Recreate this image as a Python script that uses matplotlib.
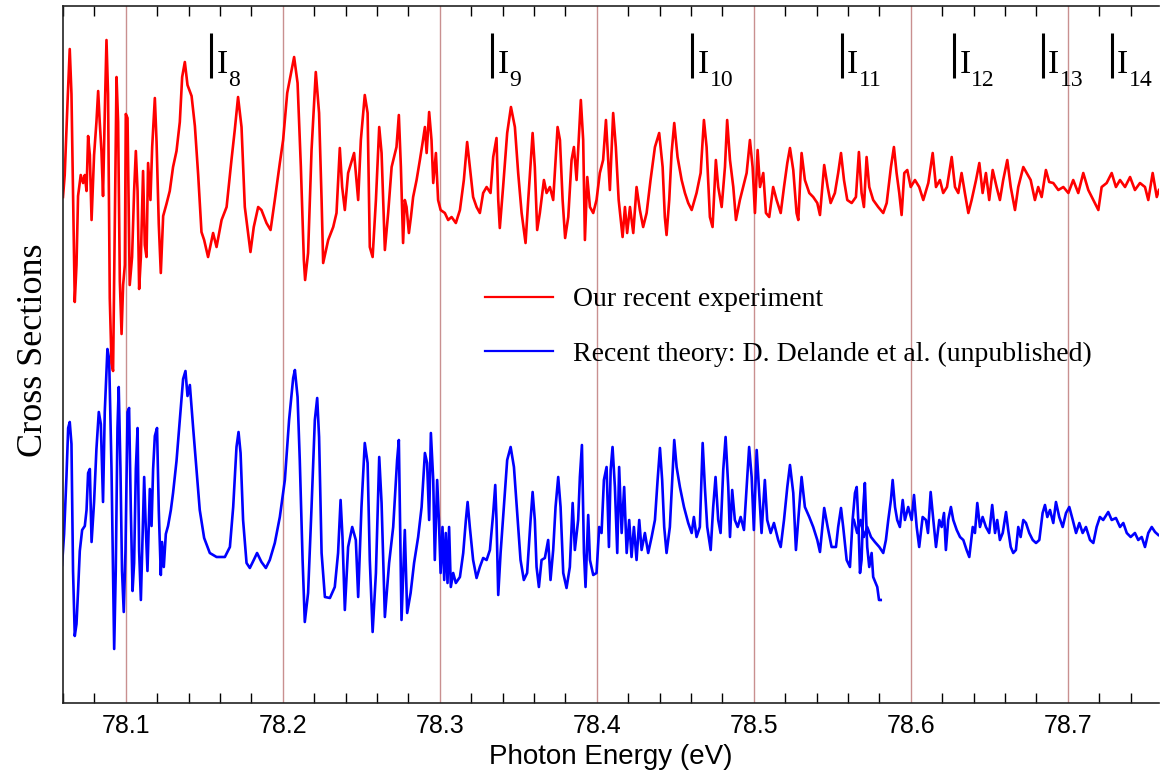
import numpy as np
import matplotlib
matplotlib.use("Agg")
import matplotlib.pyplot as plt
import matplotlib.transforms as mtransforms
from matplotlib.lines import Line2D
from matplotlib.ticker import MultipleLocator, FormatStrFormatter

# energies are stored in meV above E0, cross sections in arbitrary units
E0 = 78.0

exp_mev = [
    60.0, 61.1, 62.9, 64.3, 65.4, 66.4, 67.5, 68.6, 69.6, 71.3,
    72.8, 73.9, 75.0, 76.0, 77.1, 78.2, 79.8, 81.3, 82.4, 83.4,
    84.5, 85.5, 86.6, 87.7, 88.7, 89.8, 90.9, 91.9, 93.0, 94.1,
    95.1, 96.2, 97.3, 98.3, 99.4, 100.0, 101.1, 102.5, 104.0, 105.3,
    106.4, 107.5, 108.5, 109.6, 111.0, 112.1, 113.2, 114.2, 115.7, 116.8,
    118.5, 119.6, 121.0, 122.3, 123.8, 125.9, 128.0, 130.1, 132.3, 134.4,
    135.9, 137.6, 139.3, 141.9, 144.0, 146.1, 148.2, 149.9, 152.4, 155.6,
    157.8, 161.0, 164.2, 167.3, 169.4, 171.5, 173.7, 175.8, 177.9, 179.4,
    181.5, 184.3, 186.4, 189.6, 192.2, 194.9, 198.1, 200.2, 202.8, 207.2,
    209.4, 211.5, 213.4, 214.2, 216.1, 218.3, 221.0, 223.1, 224.7, 225.7,
    228.9, 232.1, 234.2, 236.3, 237.8, 239.5, 241.6, 245.4, 248.0, 249.7,
    252.2, 254.0, 255.4, 257.2, 259.3, 261.4, 262.9, 265.0, 267.1, 269.3,
    272.4, 273.9, 275.2, 276.6, 277.7, 278.8, 280.3, 281.6, 283.0, 285.2,
    287.3, 289.0, 290.5, 291.6, 293.2, 294.7, 295.8, 297.5, 298.9, 300.5,
    303.2, 305.3, 307.5, 310.2, 312.8, 315.3, 317.4, 319.1, 321.2, 323.4,
    325.5, 327.6, 329.8, 332.3, 334.0, 336.1, 337.2, 338.2, 340.3, 342.9,
    345.3, 347.8, 349.9, 352.1, 354.6, 356.3, 359.1, 360.5, 362.0, 363.7,
    366.3, 368.0, 370.1, 372.2, 375.0, 376.5, 378.2, 379.8, 381.8, 383.9,
    385.4, 387.1, 389.8, 391.3, 392.4, 393.9, 395.6, 397.7, 399.8, 401.9,
    404.0, 405.8, 407.2, 408.3, 410.4, 412.1, 413.9, 416.4, 417.9, 419.3,
    421.1, 423.2, 425.3, 427.4, 429.5, 431.7, 434.2, 437.0, 439.7, 441.9,
    443.3, 444.4, 446.1, 447.6, 449.3, 451.4, 454.0, 456.1, 458.2, 460.4,
    463.5, 466.1, 468.2, 469.9, 472.0, 473.7, 475.8, 477.3, 479.5, 481.6,
    483.0, 484.8, 486.9, 488.6, 491.1, 493.2, 495.4, 497.5, 499.2, 500.7,
    502.4, 503.9, 506.0, 507.7, 509.8, 512.3, 514.5, 517.1, 519.2, 521.3,
    523.0, 525.1, 527.2, 528.3, 530.4, 532.5, 535.3, 537.8, 540.4, 542.1,
    544.8, 547.0, 548.9, 551.6, 553.7, 555.5, 557.4, 559.5, 562.3, 565.0,
    566.9, 568.6, 570.1, 571.8, 573.5, 576.0, 579.2, 582.4, 584.6, 587.3,
    589.2, 590.9, 592.6, 594.1, 595.8, 597.7, 599.9, 602.6, 605.3, 607.9,
    611.1, 613.9, 616.0, 618.5, 620.6, 623.0, 626.0, 628.1, 630.2, 632.3,
    634.4, 636.6, 638.7, 641.5, 643.6, 645.7, 647.8, 649.9, 652.1, 654.6,
    656.7, 658.8, 661.4, 663.6, 666.3, 668.4, 671.6, 673.8, 676.3, 679.0,
    681.1, 683.3, 686.0, 688.1, 690.7, 693.9, 697.1, 700.3, 703.4, 706.6,
    709.8, 713.0, 716.2, 719.4, 721.5, 724.7, 727.9, 730.6, 733.2, 736.4,
    739.6, 742.7, 745.9, 749.1, 751.2, 754.0, 756.6, 758.0,
]
exp_signal = [
    5.06, 5.28, 6.01, 6.54, 6.09, 5.08, 4.01, 4.38, 5.07, 5.28,
    5.20, 5.28, 5.12, 5.67, 5.48, 4.83, 5.48, 5.81, 6.12, 5.81,
    5.52, 5.07, 5.89, 6.63, 6.09, 4.05, 3.40, 3.32, 4.79, 6.26,
    5.81, 4.22, 3.69, 4.18, 4.38, 5.89, 5.85, 4.18, 4.46, 5.12,
    5.52, 5.12, 4.14, 4.46, 5.32, 4.58, 4.46, 5.40, 5.03, 5.56,
    6.05, 5.61, 4.79, 4.30, 4.87, 4.99, 5.12, 5.36, 5.52, 5.81,
    6.26, 6.41, 6.18, 6.07, 5.77, 5.28, 4.71, 4.63, 4.46, 4.70,
    4.56, 4.83, 4.96, 5.43, 5.73, 6.06, 5.76, 4.96, 4.70, 4.51,
    4.76, 4.96, 4.93, 4.80, 4.73, 5.03, 5.40, 5.63, 6.10, 6.46,
    6.20, 5.36, 4.43, 4.23, 4.50, 5.53, 6.31, 5.90, 5.03, 4.40,
    4.63, 4.76, 4.90, 5.55, 5.16, 4.93, 5.30, 5.50, 5.03, 5.63,
    6.08, 5.90, 4.56, 4.46, 5.03, 5.76, 5.50, 4.53, 4.90, 5.36,
    5.56, 5.88, 5.36, 4.60, 5.03, 4.96, 4.70, 4.86, 5.06, 5.23,
    5.43, 5.60, 5.76, 5.50, 5.91, 5.63, 5.20, 5.50, 5.03, 4.93,
    4.90, 4.83, 4.86, 4.80, 4.93, 5.23, 5.61, 5.36, 5.06, 4.96,
    4.90, 5.10, 5.16, 5.10, 5.46, 5.65, 5.03, 4.75, 5.16, 5.70,
    5.96, 5.76, 5.30, 4.90, 4.60, 5.03, 5.70, 5.36, 4.73, 4.90,
    5.23, 5.10, 5.16, 5.03, 5.76, 5.63, 5.03, 4.65, 4.86, 5.43,
    5.56, 5.23, 6.03, 5.63, 4.63, 5.26, 4.96, 4.90, 5.03, 5.30,
    5.43, 5.83, 5.43, 5.13, 5.90, 5.56, 5.03, 4.66, 4.96, 4.70,
    4.96, 4.70, 5.16, 4.93, 4.76, 4.90, 5.23, 5.56, 5.70, 5.36,
    4.86, 4.68, 5.03, 5.50, 5.80, 5.46, 5.23, 5.10, 5.00, 4.93,
    5.10, 5.30, 5.83, 5.56, 4.86, 4.76, 5.43, 5.16, 4.96, 5.36,
    5.83, 5.43, 5.16, 4.83, 5.03, 5.16, 5.30, 5.63, 5.36, 4.90,
    5.53, 5.16, 5.30, 4.90, 4.86, 5.16, 5.03, 4.90, 5.16, 5.40,
    5.55, 5.33, 4.90, 4.83, 5.50, 5.23, 5.10, 5.06, 5.00, 4.88,
    5.38, 5.16, 5.00, 5.10, 5.30, 5.50, 5.23, 5.03, 5.00, 5.06,
    5.51, 5.10, 4.96, 5.46, 5.16, 5.03, 4.96, 4.90, 5.00, 5.36,
    5.56, 5.30, 5.10, 4.88, 5.30, 5.33, 5.16, 5.23, 5.16, 5.03,
    5.20, 5.50, 5.16, 5.23, 5.10, 5.16, 5.46, 5.16, 5.10, 5.30,
    5.10, 4.90, 5.03, 5.23, 5.40, 5.10, 5.30, 5.03, 5.33, 5.16,
    5.03, 5.23, 5.43, 5.16, 4.93, 5.16, 5.36, 5.30, 5.23, 5.03,
    5.16, 5.06, 5.33, 5.21, 5.20, 5.13, 5.16, 5.10, 5.23, 5.10,
    5.30, 5.13, 5.03, 4.93, 5.16, 5.20, 5.30, 5.16, 5.23, 5.16,
    5.26, 5.13, 5.20, 5.16, 5.03, 5.30, 5.06, 5.13,
]

# theory, first calculation (ends near 78.58 eV)
theo_a_mev = [
    59.4, 60.7, 62.2, 63.3, 64.3, 65.4, 66.4, 67.5, 68.6, 69.6,
    70.7, 72.2, 73.9, 75.0, 76.0, 77.1, 78.2, 79.8, 81.3, 82.8,
    84.1, 85.5, 86.6, 88.3, 89.4, 90.9, 91.9, 92.6, 93.6, 94.7,
    95.5, 96.6, 97.6, 98.7, 99.8, 101.1, 102.1, 103.2, 104.3, 105.3,
    106.4, 107.5, 108.5, 109.6, 110.6, 111.7, 112.7, 113.8, 115.3, 116.4,
    117.4, 118.5, 119.9, 121.0, 122.3, 123.1, 124.2, 125.5, 126.9, 128.7,
    130.1, 132.3, 134.4, 136.5, 138.0, 139.3, 140.8, 142.9, 145.0, 147.1,
    149.9, 153.5, 157.8, 163.1, 166.3, 168.4, 170.5, 171.8, 173.1, 174.7,
    176.9, 179.0, 181.5, 183.6, 186.4, 189.2, 191.7, 194.9, 198.1, 201.3,
    204.0, 206.6, 207.7, 209.4, 210.8, 212.6, 214.0, 216.1, 218.3, 220.4,
    221.9, 223.1, 224.7, 226.8, 230.0, 233.1, 235.2, 236.8, 238.0, 239.5,
    241.6, 244.2, 246.5, 248.0, 250.1, 252.2, 254.0, 255.4, 257.2, 259.3,
    261.4, 262.9, 265.0, 267.7, 270.3, 272.8, 273.9, 275.6, 277.7, 279.2,
    281.4, 283.6, 286.2, 288.4, 290.5, 291.9, 293.2, 294.3, 295.8, 296.8,
    298.3, 299.4, 300.5, 301.7, 302.8, 303.8, 304.9, 305.9, 307.0, 308.5,
    310.2, 312.8, 314.9, 316.6, 317.7, 319.1, 321.2, 323.4, 325.5, 327.6,
    329.8, 331.9, 334.0, 335.3, 336.1, 337.2, 338.7, 340.8, 342.9, 345.1,
    347.2, 349.3, 351.4, 353.5, 355.6, 357.8, 359.1, 360.5, 361.6, 363.1,
    364.8, 366.9, 369.0, 370.5, 372.2, 373.7, 375.4, 376.9, 378.6, 380.7,
    382.8, 384.6, 386.0, 388.1, 389.2, 390.5, 391.8, 392.8, 394.5, 395.6,
    397.7, 399.8, 401.5, 403.0, 404.5, 406.2, 407.7, 408.8, 410.0, 411.5,
    413.0, 414.2, 415.8, 417.4, 419.0, 420.6, 422.1, 423.6, 425.3, 427.0,
    428.5, 430.6, 432.7, 434.9, 437.0, 438.7, 440.2, 441.6, 442.9, 444.4,
    446.5, 448.0, 449.3, 450.8, 452.9, 455.5, 458.2, 460.4, 461.8, 463.5,
    465.6, 467.4, 468.8, 470.3, 472.5, 474.1, 475.6, 477.3, 478.8, 480.5,
    482.0, 483.7, 484.8, 486.2, 487.9, 489.7, 491.6, 493.7, 495.4, 497.0,
    498.6, 500.0, 501.8, 503.2, 504.9, 507.0, 508.5, 510.7, 512.8, 515.5,
    517.1, 519.2, 521.3, 523.0, 525.1, 526.8, 528.9, 530.4, 532.5, 535.3,
    537.8, 540.4, 542.1, 544.8, 547.0, 549.5, 552.3, 553.7, 555.5, 556.9,
    559.1, 561.2, 562.9, 564.4, 565.5, 566.7, 567.6, 568.6, 569.7, 570.7,
    572.2, 573.5, 575.0, 576.0, 577.6, 578.6, 579.7, 580.8,
]
theo_a_signal = [
    1.38, 1.69, 2.26, 2.75, 2.81, 2.59, 1.32, 0.67, 0.79, 1.12,
    1.52, 1.73, 1.77, 1.93, 2.30, 2.34, 1.61, 2.01, 2.54, 2.91,
    2.79, 2.01, 2.91, 3.54, 3.44, 2.34, 1.30, 0.54, 1.32, 2.75,
    3.16, 2.34, 1.32, 0.91, 1.52, 2.91, 2.95, 1.93, 1.12, 1.40,
    2.34, 2.75, 1.52, 1.03, 1.61, 2.26, 1.77, 1.32, 2.14, 1.77,
    2.34, 2.67, 2.75, 1.93, 1.28, 1.61, 1.36, 1.69, 1.77, 1.93,
    2.10, 2.42, 2.83, 3.24, 3.32, 3.07, 3.18, 2.75, 2.34, 1.93,
    1.65, 1.50, 1.46, 1.46, 1.56, 1.96, 2.56, 2.71, 2.50, 1.83,
    1.40, 1.35, 1.43, 1.50, 1.41, 1.35, 1.43, 1.60, 1.86, 2.23,
    2.83, 3.25, 3.33, 3.06, 2.43, 1.43, 0.81, 1.10, 1.96, 2.83,
    3.05, 2.66, 1.50, 1.06, 1.05, 1.16, 1.50, 2.03, 1.66, 0.93,
    1.56, 1.76, 1.63, 1.06, 1.96, 2.60, 2.40, 1.43, 0.71, 1.30,
    2.46, 2.00, 0.86, 1.40, 1.76, 2.43, 2.63, 0.83, 1.73, 0.90,
    1.10, 1.40, 1.66, 1.96, 2.50, 2.40, 1.83, 2.70, 2.23, 1.43,
    2.23, 1.83, 1.30, 1.76, 1.23, 1.70, 1.20, 1.76, 1.16, 1.30,
    1.20, 1.26, 1.50, 1.83, 2.01, 1.76, 1.43, 1.25, 1.36, 1.45,
    1.43, 1.53, 1.90, 2.18, 1.83, 1.08, 1.50, 1.96, 2.43, 2.56,
    2.36, 1.90, 1.43, 1.23, 1.30, 1.83, 2.11, 1.83, 1.36, 1.16,
    1.43, 1.45, 1.63, 1.23, 1.53, 1.96, 2.26, 1.96, 1.30, 1.15,
    1.36, 2.00, 1.53, 1.83, 2.26, 2.58, 1.50, 1.16, 1.88, 1.43,
    1.28, 1.30, 1.76, 1.70, 2.23, 2.36, 1.56, 2.33, 2.56, 2.16,
    1.50, 2.36, 1.70, 2.16, 1.50, 1.83, 1.46, 1.76, 1.43, 1.83,
    1.53, 1.70, 1.50, 1.66, 1.83, 2.23, 2.55, 2.23, 1.76, 1.50,
    1.76, 2.23, 2.63, 2.36, 2.16, 1.96, 1.80, 1.70, 1.86, 1.66,
    1.76, 2.60, 2.16, 1.76, 1.53, 1.96, 2.26, 1.83, 1.70, 2.33,
    2.66, 2.16, 1.66, 2.13, 1.83, 1.76, 1.86, 1.73, 2.16, 2.56,
    2.26, 1.73, 2.53, 2.16, 1.70, 2.23, 1.83, 1.70, 1.80, 1.63,
    1.56, 1.83, 2.16, 2.38, 2.10, 1.53, 1.96, 2.26, 1.96, 1.86,
    1.76, 1.63, 1.51, 1.95, 1.76, 1.56, 1.56, 1.76, 1.95, 1.76,
    1.43, 1.36, 1.83, 2.10, 2.16, 1.76, 1.30, 1.43, 1.96, 2.20,
    1.56, 1.36, 1.50, 1.26, 1.20, 1.16, 1.03, 1.03,
]

# theory, second calculation (from 78.56 eV up)
theo_b_mev = [
    563.7, 565.8, 568.0, 570.1, 572.2, 574.6, 577.1, 579.9, 582.4, 584.1,
    585.6, 587.3, 588.4, 589.9, 591.3, 593.0, 594.8, 596.2, 598.3, 600.5,
    602.0, 603.7, 605.3, 607.5, 609.6, 610.9, 612.6, 614.3, 616.0, 618.1,
    619.6, 621.1, 622.3, 623.8, 625.5, 627.0, 629.2, 631.3, 633.4, 635.5,
    637.2, 639.4, 640.8, 642.3, 644.0, 645.7, 647.8, 649.9, 651.8, 653.6,
    655.0, 656.7, 658.5, 660.6, 662.0, 663.6, 665.2, 666.9, 668.4, 669.9,
    671.6, 673.3, 675.4, 677.6, 679.7, 681.8, 683.9, 685.4, 686.9, 688.6,
    690.7, 692.4, 694.5, 696.7, 698.8, 700.9, 703.1, 705.2, 707.3, 709.4,
    711.5, 714.1, 716.2, 718.3, 720.4, 722.5, 725.7, 727.9, 730.6, 733.2,
    735.3, 737.5, 740.0, 742.7, 744.8, 747.0, 749.1, 751.2, 753.4, 755.5,
    757.6,
]
theo_b_signal = [
    1.83, 1.70, 1.83, 1.66, 1.76, 1.66, 1.61, 1.56, 1.50, 1.63,
    1.83, 2.03, 2.23, 1.96, 1.83, 1.76, 2.03, 1.83, 1.96, 1.83,
    2.08, 1.76, 1.56, 1.86, 1.83, 1.70, 2.11, 1.83, 1.56, 1.83,
    1.76, 1.90, 1.53, 1.83, 1.96, 1.83, 1.73, 1.66, 1.63, 1.53,
    1.46, 1.76, 1.70, 2.00, 1.76, 1.86, 1.76, 1.70, 1.98, 1.70,
    1.83, 1.63, 1.70, 1.91, 1.73, 1.56, 1.50, 1.53, 1.76, 1.66,
    1.83, 1.80, 1.70, 1.63, 1.60, 1.63, 1.90, 1.98, 1.86, 1.93,
    1.80, 2.01, 1.86, 1.76, 1.90, 1.96, 1.83, 1.70, 1.80, 1.70,
    1.76, 1.63, 1.60, 1.76, 1.86, 1.83, 1.91, 1.83, 1.85, 1.76,
    1.80, 1.70, 1.66, 1.70, 1.63, 1.66, 1.56, 1.70, 1.76, 1.71,
    1.68,
]

# I_n ionisation thresholds
threshold_mev = [154.2, 333.3, 460.7, 555.9, 627.4, 683.9, 727.9]
threshold_n = [8, 9, 10, 11, 12, 13, 14]

legend_labels = ["Our recent experiment",
                 "Recent theory: D. Delande et al. (unpublished)"]

RED = "#ff0000"
BLUE = "#0000ff"
SERIF = "Liberation Serif"
SANS = "Liberation Sans"
LW = 1.9


def to_ev(mev):
    return E0 + np.asarray(mev) / 1000.0


fig = plt.figure(figsize=(11.6, 7.72), dpi=100)
ax = fig.add_axes([0.0543, 0.0894, 0.9448, 0.9028])

ax.plot(to_ev(theo_a_mev), theo_a_signal, color=BLUE, lw=LW)
ax.plot(to_ev(theo_b_mev), theo_b_signal, color=BLUE, lw=LW)
ax.plot(to_ev(exp_mev), exp_signal, color=RED, lw=LW)

ax.set_xlim(78.06, 78.758)
ax.set_ylim(0, 6.97)

# threshold markers along the top: bar, "I" and a lowered index
trans = mtransforms.blended_transform_factory(ax.transData, ax.transAxes)
ax.vlines(to_ev(threshold_mev), 0.897, 0.961, transform=trans,
          color="black", lw=2.2)
for e, n in zip(to_ev(threshold_mev), threshold_n):
    ax.annotate("I", xy=(e, 0.904), xycoords=trans,
                xytext=(4, 0), textcoords="offset points",
                family=SERIF, fontsize=24, ha="left", va="baseline")
    ax.annotate(str(n), xy=(e, 0.904), xycoords=trans,
                xytext=(12.5, -9.5), textcoords="offset points",
                family=SERIF, fontsize=17, ha="left", va="baseline")

handles = [Line2D([], [], color=RED, lw=1.6), Line2D([], [], color=BLUE, lw=1.6)]
ax.legend(handles, legend_labels, loc="upper left", bbox_to_anchor=(0.385, 0.597),
          frameon=False, prop={"family": SERIF, "size": 20},
          handlelength=2.45, handletextpad=0.72, labelspacing=1.05,
          borderpad=0, borderaxespad=0)

# axes, ticks and grid
ax.xaxis.set_major_locator(MultipleLocator(0.1))
ax.xaxis.set_minor_locator(MultipleLocator(0.02))
ax.xaxis.set_major_formatter(FormatStrFormatter("%.1f"))
ax.grid(axis="x", which="major", color="#c99090", lw=1.0)
ax.tick_params(axis="x", which="major", length=0, pad=8, labelsize=18)
ax.tick_params(axis="x", which="minor", direction="in", length=7.5, width=1.0,
               top=True, bottom=True)
ax.tick_params(axis="y", which="both", left=False, labelleft=False)
for lab in ax.get_xticklabels():
    lab.set_family(SANS)

for side in ("left", "top", "bottom"):
    ax.spines[side].set_linewidth(1.2)
    ax.spines[side].set_color("#222222")
ax.spines["right"].set_visible(False)

ax.set_xlabel("Photon Energy (eV)", family=SANS, fontsize=20, labelpad=4)
ax.set_ylabel("Cross Sections", family=SERIF, fontsize=26)
ax.yaxis.set_label_coords(-0.012, 0.506)

fig.savefig("out.png", dpi=100)
